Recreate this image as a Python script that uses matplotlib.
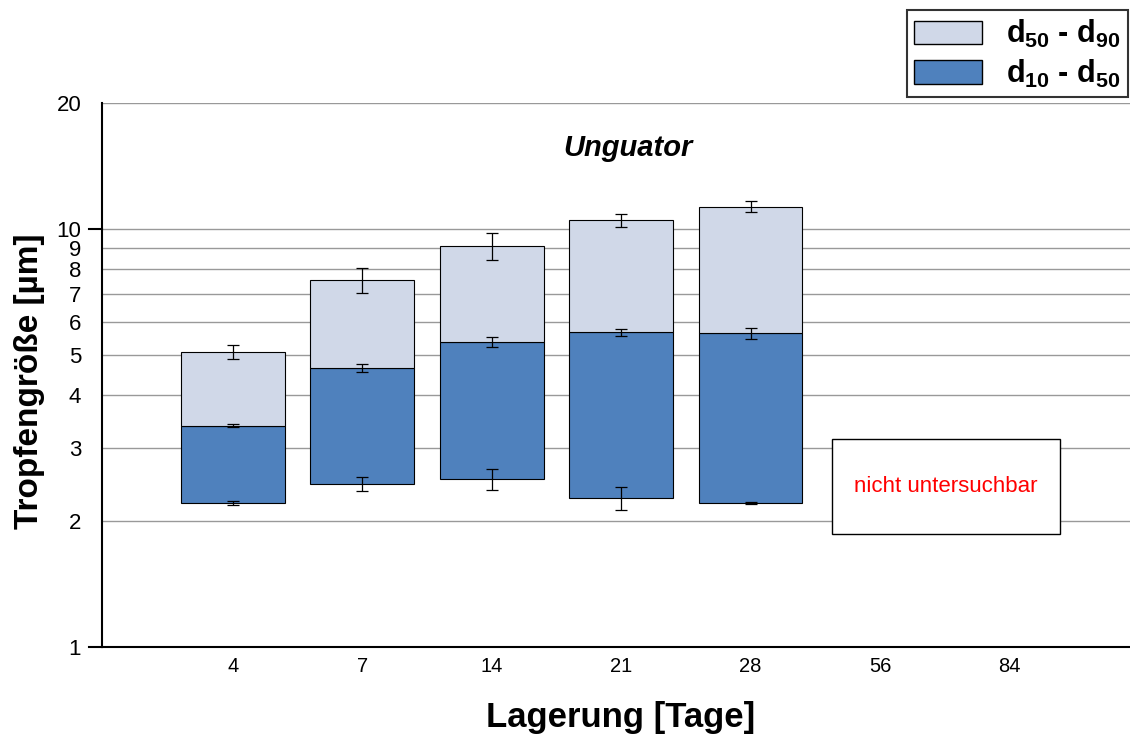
import matplotlib
matplotlib.use("Agg")
import matplotlib.pyplot as plt
import numpy as np
from matplotlib.patches import Rectangle, Patch

plt.rcParams['font.family'] = ['Liberation Sans', 'DejaVu Sans']
plt.rcParams['mathtext.fontset'] = 'custom'
plt.rcParams['mathtext.rm'] = 'Liberation Sans'
plt.rcParams['mathtext.bf'] = 'Liberation Sans:bold'
plt.rcParams['mathtext.it'] = 'Liberation Sans:italic'

categories = ["4", "7", "14", "21", "28", "56", "84"]
# measured days (first five only)
d10 = [2.21, 2.45, 2.52, 2.27, 2.21]
d50 = [3.38, 4.65, 5.37, 5.66, 5.63]
d90 = [5.08, 7.55, 9.10, 10.50, 11.28]
d10_lo = [2.19, 2.36, 2.37, 2.13, 2.20]
d10_hi = [2.23, 2.55, 2.66, 2.41, 2.22]
d50_lo = [3.35, 4.55, 5.23, 5.53, 5.46]
d50_hi = [3.41, 4.75, 5.52, 5.77, 5.78]
d90_lo = [4.89, 7.03, 8.41, 10.10, 10.97]
d90_hi = [5.28, 8.06, 9.79, 10.85, 11.66]
yticks = [1, 2, 3, 4, 5, 6, 7, 8, 9, 10, 20]
missing_label = "nicht untersuchbar"

fig = plt.figure(figsize=(11.3, 7.37), dpi=100)
ax = fig.add_axes([0.0903, 0.1221, 0.9097, 0.7381])

x = np.arange(len(d10))
light = "#D0D8E8"
dark = "#4F81BD"
w = 0.8
ax.bar(x, np.array(d50) - np.array(d10), bottom=d10, width=w, color=dark,
       edgecolor="black", linewidth=0.8, zorder=3)
ax.bar(x, np.array(d90) - np.array(d50), bottom=d50, width=w, color=light,
       edgecolor="black", linewidth=0.8, zorder=3)

for vals, lo, hi in [(d10, d10_lo, d10_hi), (d50, d50_lo, d50_hi), (d90, d90_lo, d90_hi)]:
    vals = np.array(vals)
    yerr = [vals - np.array(lo), np.array(hi) - vals]
    ax.errorbar(x, vals, yerr=yerr, fmt="none", ecolor="black", elinewidth=0.9,
                capsize=4, capthick=0.9, zorder=4)

ax.set_yscale("log")
ax.set_ylim(1, 20)
ax.set_xlim(-1.01, 6.93)
ax.set_yticks(yticks)
ax.set_yticklabels([str(t) for t in yticks])
ax.yaxis.set_minor_locator(matplotlib.ticker.NullLocator())
ax.set_xticks(np.arange(len(categories)))
ax.set_xticklabels(categories)
ax.tick_params(axis="x", length=0, labelsize=14.5, pad=7)
ax.tick_params(axis="y", length=0, labelsize=16, pad=15)
for t in [1, 10]:
    ax.plot([-0.013, 0], [t, t], color="black", lw=1.5,
            transform=ax.get_yaxis_transform(), clip_on=False, zorder=5)

ax.grid(axis="y", color="#999999", linewidth=1.0, zorder=0)
for s in ["top", "right"]:
    ax.spines[s].set_visible(False)
ax.spines["left"].set_linewidth(1.5)
ax.spines["bottom"].set_linewidth(1.5)

# missing box
ax.add_patch(Rectangle((4.63, 1.86), 6.39 - 4.63, 3.14 - 1.86, facecolor="white",
                       edgecolor="black", linewidth=1.0, zorder=3))
ax.text((4.63 + 6.39) / 2, np.sqrt(1.86 * 3.14), missing_label, color="red",
        fontsize=16, ha="center", va="center", zorder=4)

ax.text(0.512, 0.917, "Unguator", transform=ax.transAxes, fontsize=21,
        fontweight="bold", fontstyle="italic", ha="center", va="center")

fig.text(30 / 1130, 1 - 381 / 737, "Tropfengröße [µm]", fontsize=24,
         fontweight="bold", rotation=90, ha="center", va="center")
fig.text(0.549, 0.026, "Lagerung [Tage]", fontsize=25, fontweight="bold",
         ha="center", va="center")

handles = [Patch(facecolor=light, edgecolor="black", linewidth=1.0),
           Patch(facecolor=dark, edgecolor="black", linewidth=1.0)]
labels = [r"$\mathbf{d_{50}}$ - $\mathbf{d_{90}}$",
          r"$\mathbf{d_{10}}$ - $\mathbf{d_{50}}$"]
leg = fig.legend(handles, labels, loc="upper right", bbox_to_anchor=(0.9985, 0.986),
                 prop={"size": 22, "weight": "bold"}, frameon=True, fancybox=False,
                 edgecolor="black", handlelength=2.2, handleheight=0.8,
                 labelspacing=0.25, borderpad=0.25, handletextpad=0.8, borderaxespad=0)
leg.get_frame().set_linewidth(1.5)

fig.savefig("out.png", dpi=100)
